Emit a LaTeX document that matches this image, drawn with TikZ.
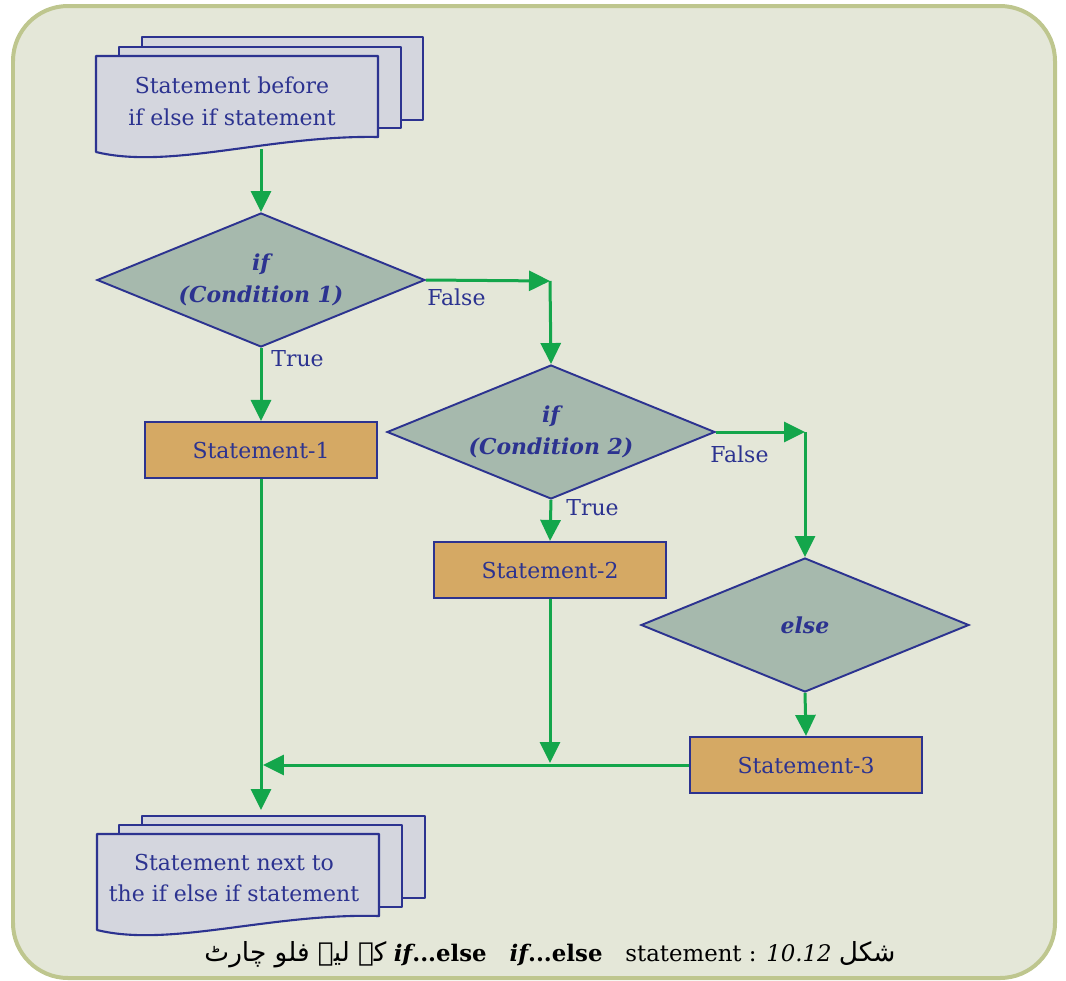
\documentclass[tikz,border=0pt]{standalone}
\usepackage{fontspec}
\setmainfont{DejaVu Serif}
\newfontfamily\urdufont[Script=Arabic]{DejaVu Sans}
\TeXXeTstate=1
\usetikzlibrary{shapes.geometric,arrows.meta}
\definecolor{panel}{HTML}{E4E7D8}
\definecolor{framegreen}{HTML}{BEC68E}
\definecolor{inkblue}{HTML}{2C3390}
\definecolor{sheetgrey}{HTML}{D4D6DE}
\definecolor{decgreen}{HTML}{A6B9AD}
\definecolor{proctan}{HTML}{D5A964}
\definecolor{flowgreen}{HTML}{13A64B}
\tikzset{
  frame/.style={draw=framegreen, line width=0.08cm, fill=panel, rounded corners=1.1cm},
  sheet/.style={draw=inkblue, line width=1.2pt, fill=sheetgrey, line join=round},
  doctext/.style={text=inkblue, align=center, font=\fontsize{12.5}{18}\selectfont},
  decision/.style={diamond, aspect=2.45, draw=inkblue, line width=1.1pt, fill=decgreen,
    minimum width=6.56cm, minimum height=2.68cm, inner sep=0pt, text=inkblue,
    align=center, font=\fontsize{12.5}{18}\selectfont\bfseries\itshape},
  process/.style={rectangle, draw=inkblue, line width=1.2pt, fill=proctan,
    minimum width=4.64cm, minimum height=1.12cm, text=inkblue, font=\fontsize{12.5}{15}\selectfont},
  branch/.style={text=inkblue, anchor=west, inner sep=0pt, font=\fontsize{12.5}{14}\selectfont},
  flow/.style={draw=flowgreen, line width=0.06cm, -{Triangle[length=0.42cm,width=0.4cm]}},
  captiontext/.style={text=black, font=\fontsize{13}{15}\selectfont},
}

\begin{document}
\begin{tikzpicture}[x=0.02cm,y=-0.02cm]
\useasboundingbox (0,0) rectangle (1066,981);
\draw[frame] (13,6) rectangle (1055,978);
% statement before
\draw[sheet] (142,37) rectangle (423,120);
\draw[sheet] (119,47) rectangle (401,128);
\draw[sheet] (96,152) -- (96,56) -- (378,56) -- (378,137) .. controls (270,135) and (170,170) .. (96,152) -- cycle;
\node[doctext] (before) at (232,101) {Statement before\\if else if statement};
\coordinate (beforeout) at (261,149);
% decisions
\node[decision] (cond1) at (261,280) {if\\(Condition 1)};
\node[decision] (cond2) at (551,432) {if\\(Condition 2)};
\node[decision] (elsebox) at (805,625) {else};
% statements
\node[process] (stmt1) at (261,450) {Statement-1};
\node[process] (stmt2) at (550,570) {Statement-2};
\node[process] (stmt3) at (806,765) {Statement-3};
% statement next
\draw[sheet] (142,816) rectangle (425,898);
\draw[sheet] (119,825) rectangle (402,907);
\draw[sheet] (97,930) -- (97,834) -- (379,834) -- (379,916) .. controls (270,913) and (170,948) .. (97,930) -- cycle;
\node[doctext] (after) at (234,878) {Statement next to\\the if else if statement};
\coordinate (afterin) at (261,810);
% branch labels
\node[branch] (false1) at (427,297) {False};
\node[branch] (true1) at (271,359) {True};
\node[branch] (false2) at (710,454) {False};
\node[branch] (true2) at (566,508) {True};
% connectors
\coordinate (turn1) at (550,281);
\coordinate (turn2) at (805,432);
\coordinate (merge1) at (263,765);
\coordinate (merge2) at (550,763);
\draw[flow] (beforeout) -- (cond1.north);
\draw[flow] (cond1.south) -- (stmt1.north);
\draw[flow] (cond1.east) -- (turn1);
\draw[flow] (turn1) -- (cond2.north);
\draw[flow] (cond2.south) -- (stmt2.north);
\draw[flow] (cond2.east) -- (turn2);
\draw[flow] (turn2) -- (elsebox.north);
\draw[flow] (elsebox.south) -- (stmt3.north);
\draw[flow] (stmt1.south) -- (afterin);
\draw[flow] (stmt2.south) -- (merge2);
\draw[flow] (stmt3.west) -- (merge1);
% caption
\node[captiontext] (caption) at (550,955) {\beginR{\urdufont\fontsize{15}{15}\selectfont شکل} \beginL{\bfseries\itshape if}\textbf{...else}\quad{\bfseries\itshape if}\textbf{...else}\quad statement : \textit{10.12}\endL{} {\urdufont\fontsize{15}{15}\selectfont کے لیے فلو چارٹ}\endR};
\end{tikzpicture}
\end{document}
